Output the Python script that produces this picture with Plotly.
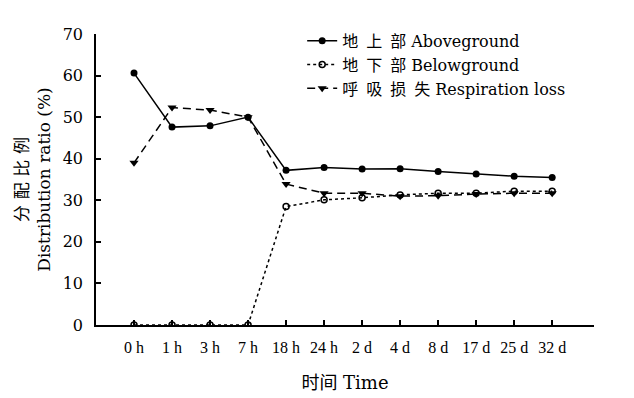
import plotly.graph_objects as go

categories = ["0 h", "1 h", "3 h", "7 h", "18 h", "24 h", "2 d", "4 d", "8 d", "17 d", "25 d", "32 d"]
aboveground = [60.6, 47.6, 47.9, 50.0, 37.2, 37.9, 37.5, 37.6, 36.9, 36.3, 35.8, 35.5]
belowground = [0, 0, 0, 0, 28.5, 30.1, 30.6, 31.3, 31.7, 31.7, 32.2, 32.2]
respiration = [39.0, 52.3, 51.7, 50.0, 33.9, 31.7, 31.7, 31.0, 31.1, 31.5, 31.7, 31.7]
series_names = ["地\u2002上\u2002部 Aboveground", "地\u2002下\u2002部 Belowground", "呼\u2002吸\u2002损\u2002失 Respiration loss"]
y_ticks = [0, 10, 20, 30, 40, 50, 60, 70]

WIDE = "DejaVu Serif, Noto Sans CJK SC, serif"
NARROW = "Liberation Serif, Times New Roman, Noto Sans CJK SC, serif"
x_idx = list(range(len(categories)))

fig = go.Figure()
fig.add_trace(go.Scatter(
    x=x_idx, y=aboveground, name=series_names[0], mode="lines+markers",
    line=dict(color="black", width=1.5, dash="solid"),
    marker=dict(symbol="circle", size=7, color="black"),
))
fig.add_trace(go.Scatter(
    x=x_idx, y=belowground, name=series_names[1], mode="lines+markers",
    line=dict(color="black", width=1.5, dash="dot"),
    marker=dict(symbol="circle-open", size=6, color="black", line=dict(width=1.5)),
))
fig.add_trace(go.Scatter(
    x=x_idx, y=respiration, name=series_names[2], mode="lines+markers",
    line=dict(color="black", width=1.5, dash="8px,5px"),
    marker=dict(symbol="triangle-down", size=8, color="black"),
))

fig.update_layout(
    width=626, height=390,
    margin=dict(l=88, r=40, t=26, b=73),
    paper_bgcolor="white", plot_bgcolor="white",
    font=dict(family=WIDE, size=16, color="black"),
    showlegend=True,
    legend=dict(x=0.414, y=1.035, xanchor="left", yanchor="top",
                bgcolor="rgba(0,0,0,0)", font=dict(size=16, family=WIDE),
                tracegroupgap=0, itemwidth=30),
    xaxis=dict(
        range=[-1, 12.1], tickmode="array", tickvals=x_idx, ticktext=categories,
        showline=True, linecolor="black", linewidth=1.5, ticks="inside", ticklen=5,
        tickcolor="black", tickwidth=1.5, showgrid=False, zeroline=False,
        tickfont=dict(size=16, family=NARROW), ticklabelstandoff=7,
        automargin=False,
        title=dict(text="时间 Time", font=dict(size=18, family=WIDE), standoff=21),
    ),
    yaxis=dict(
        range=[0, 70], tickmode="array", tickvals=y_ticks,
        showline=True, linecolor="black", linewidth=1.5, ticks="inside", ticklen=5,
        tickcolor="black", tickwidth=1.5, showgrid=False, zeroline=False,
        tickfont=dict(size=16, family=WIDE), ticklabelstandoff=8,
        automargin=False,
        title=dict(text="分\u2004配\u2004比\u2004例<br>Distribution ratio (%)", font=dict(size=17, family=WIDE), standoff=8),
    ),
)

fig.write_html("out.html")
